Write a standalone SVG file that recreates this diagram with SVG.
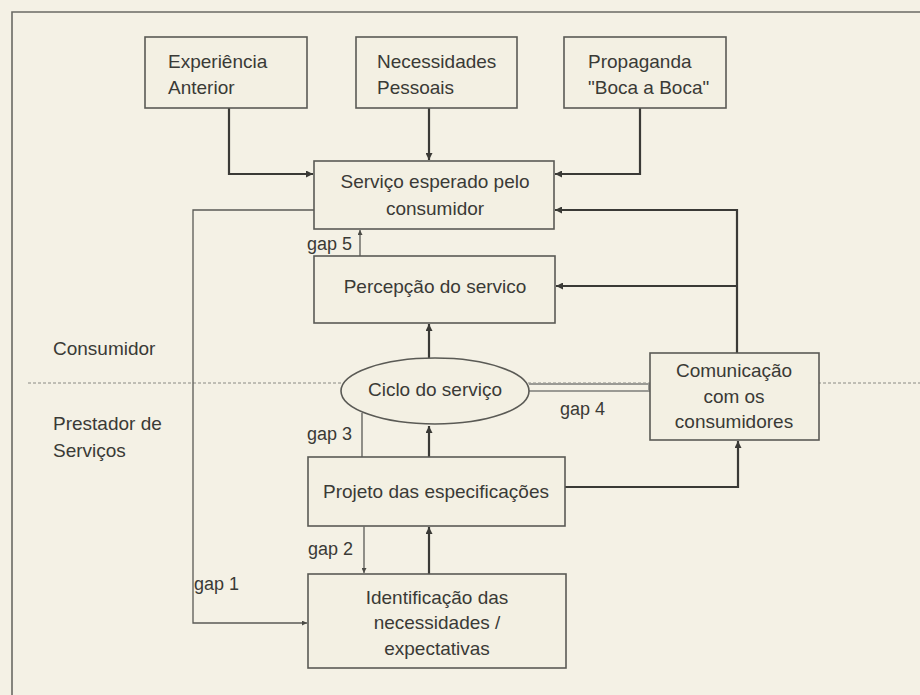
<svg xmlns="http://www.w3.org/2000/svg" width="920" height="695" viewBox="0 0 920 695">
  <defs>
    <marker id="arrow" viewBox="0 0 10 10" refX="10" refY="5" markerWidth="8" markerHeight="7" markerUnits="userSpaceOnUse" orient="auto">
      <path d="M0,0 L10,5 L0,10 z" fill="#3a3a36"/>
    </marker>
    <marker id="tick" viewBox="0 0 10 10" refX="10" refY="5" markerWidth="5" markerHeight="5" markerUnits="userSpaceOnUse" orient="auto">
      <path d="M0,0 L10,5 L0,10 z" fill="#4a4a45"/>
    </marker>
    <style>
      .box { fill: #f3f0e3; stroke: #5a5a55; stroke-width: 1.6; }
      .lbl { font-family: "Liberation Sans", Arial, sans-serif; font-size: 19px; fill: #3a3a36; }
      .mid { text-anchor: middle; }
      .gap { font-family: "Liberation Sans", Arial, sans-serif; font-size: 18px; fill: #3a3a36; }
      .flow { fill: none; stroke: #3a3a36; stroke-width: 2.2; marker-end: url(#arrow); }
      .thin { fill: none; stroke: #5a5a55; stroke-width: 1.3; }
      .frame { fill: none; stroke: #6a6a64; stroke-width: 1.6; }
    </style>
  </defs>

  <!-- page background and frame -->
  <rect x="0" y="0" width="920" height="695" fill="#f4f1e5"/>
  <path class="frame" d="M12,700 L12,12 L925,12"/>

  <!-- boundary between consumer and provider -->
  <line x1="28" y1="383" x2="920" y2="383" stroke="#8a8a84" stroke-width="1" stroke-dasharray="3 2"/>

  <!-- zone labels -->
  <text class="lbl" x="53" y="355">Consumidor</text>
  <text class="lbl" x="53" y="430">Prestador de</text>
  <text class="lbl" x="53" y="457">Serviços</text>

  <g id="connectors">
    <!-- inputs to expected service -->
    <path class="flow" d="M229,108 L229,174 L313,174"/>
    <path class="flow" d="M429,108 L429,160"/>
    <path class="flow" d="M640,108 L640,174 L555,174"/>
    <!-- communication feeds expectation and perception -->
    <path class="flow" d="M737,353 L737,210 L555,210"/>
    <path class="flow" d="M737,286 L556,286"/>
    <!-- provider chain upwards -->
    <path class="flow" d="M429,358 L429,324"/>
    <path class="flow" d="M429,457 L429,426"/>
    <path class="flow" d="M429,574 L429,527"/>
    <path class="flow" d="M565,487 L738,487 L738,441"/>
    <!-- gap 1 loop -->
    <path class="thin" d="M314,210 L193,210 L193,623 L307,623" marker-end="url(#tick)"/>
    <!-- gap 5 -->
    <path class="thin" d="M360,256 L360,230" marker-end="url(#tick)"/>
    <!-- gap 3 -->
    <path class="thin" d="M362,457 L362,413"/>
    <!-- gap 2 -->
    <path class="thin" d="M364,527 L364,573" marker-end="url(#tick)" marker-start="url(#tick)"/>
    <!-- gap 4 double line -->
    <line x1="529" y1="387.5" x2="650" y2="387.5" stroke="#9a9a94" stroke-width="9"/>
    <line x1="529" y1="387.5" x2="648" y2="387.5" stroke="#f4f1e5" stroke-width="5"/>
  </g>

  <g id="experiencia">
    <rect class="box" x="145" y="37" width="162" height="71"/>
    <text class="lbl" x="168" y="68">Experiência</text>
    <text class="lbl" x="168" y="94">Anterior</text>
  </g>

  <g id="necessidades">
    <rect class="box" x="356" y="37" width="161" height="71"/>
    <text class="lbl" x="377" y="68">Necessidades</text>
    <text class="lbl" x="377" y="94">Pessoais</text>
  </g>

  <g id="propaganda">
    <rect class="box" x="564" y="37" width="162" height="71"/>
    <text class="lbl" x="588" y="68">Propaganda</text>
    <text class="lbl" x="588" y="94">"Boca a Boca"</text>
  </g>

  <g id="servico-esperado">
    <rect class="box" x="314" y="161" width="240" height="68"/>
    <text class="lbl mid" x="435" y="188">Serviço esperado pelo</text>
    <text class="lbl mid" x="435" y="215">consumidor</text>
  </g>

  <g id="percepcao">
    <rect class="box" x="314" y="256" width="241" height="67"/>
    <text class="lbl mid" x="435" y="293">Percepção do servico</text>
  </g>

  <g id="ciclo">
    <ellipse class="box" cx="435" cy="391" rx="94" ry="33"/>
    <text class="lbl mid" x="435" y="396">Ciclo do serviço</text>
  </g>

  <g id="comunicacao">
    <rect class="box" x="650" y="353" width="169" height="87"/>
    <text class="lbl mid" x="734" y="377">Comunicação</text>
    <text class="lbl mid" x="734" y="403">com os</text>
    <text class="lbl mid" x="734" y="428">consumidores</text>
  </g>

  <g id="projeto">
    <rect class="box" x="308" y="457" width="257" height="69"/>
    <text class="lbl mid" x="436" y="498">Projeto das especificações</text>
  </g>

  <g id="identificacao">
    <rect class="box" x="308" y="574" width="258" height="94"/>
    <text class="lbl mid" x="437" y="604">Identificação das</text>
    <text class="lbl mid" x="437" y="629">necessidades /</text>
    <text class="lbl mid" x="437" y="655">expectativas</text>
  </g>

  <!-- gap labels -->
  <text class="gap" x="307" y="250">gap 5</text>
  <text class="gap" x="307" y="440">gap 3</text>
  <text class="gap" x="308" y="555">gap 2</text>
  <text class="gap" x="194" y="590">gap 1</text>
  <text class="gap" x="560" y="415">gap 4</text>
</svg>
